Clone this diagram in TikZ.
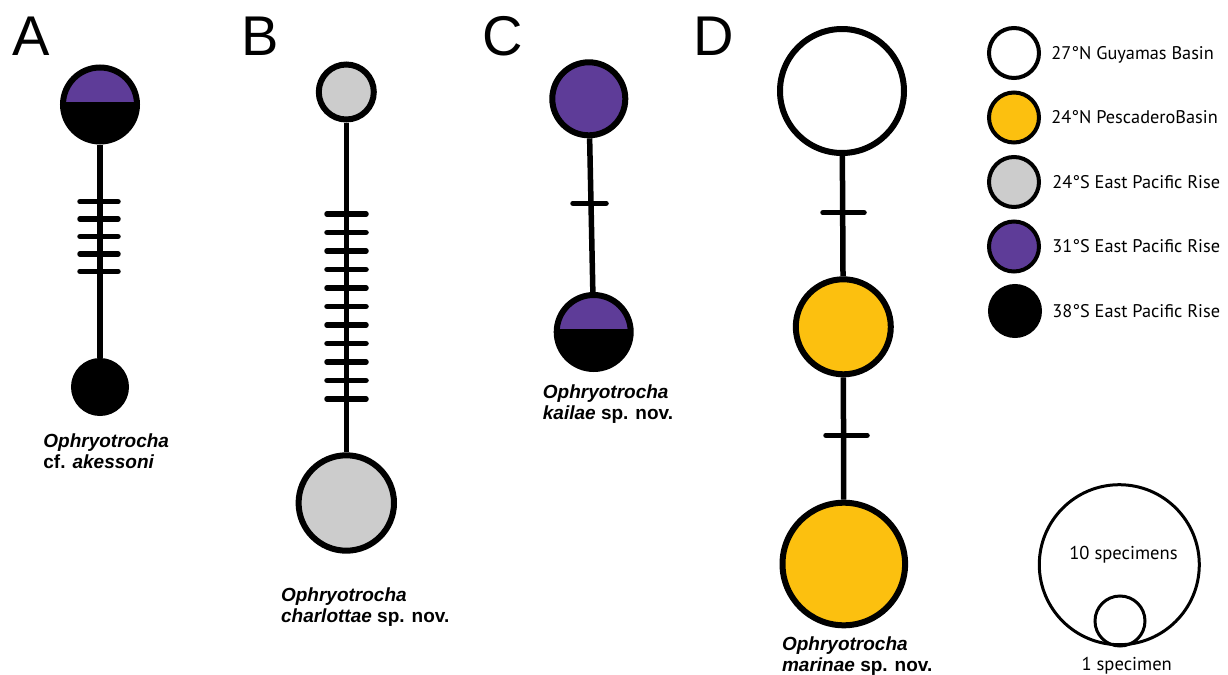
\documentclass[tikz,border=0pt]{standalone}
\usepackage{fontspec}
\setmainfont{Liberation Sans}
\newfontfamily\legfont{PT Sans}
\usetikzlibrary{calc}
\definecolor{hpurple}{RGB}{94,60,152}
\definecolor{hyellow}{RGB}{252,192,15}
\definecolor{hgray}{RGB}{204,204,204}
\begin{document}
\begin{tikzpicture}[x=0.5pt,y=-0.5pt,
  hap/.style={circle,draw=black,line width=3pt,inner sep=0pt},
  link/.style={line width=2.75pt},
  tickmk/.style={line width=2.75pt,line cap=round},
  half/.style={hap,fill=black,path picture={\fill[hpurple] (path picture bounding box.north west) rectangle ([yshift=1.4pt]path picture bounding box.east);}},
  panel/.style={font=\fontsize{28}{30}\selectfont,inner sep=0pt,anchor=base west},
  spec/.style={font=\fontsize{9.5}{10.5}\selectfont\bfseries,align=left,inner sep=0pt,anchor=base west},
  leg/.style={hap,line width=2pt,minimum size=25pt},
  legtext/.style={font=\legfont\fontsize{9.15}{11}\selectfont,anchor=base west,inner sep=0pt},
  sizec/.style={circle,draw=black,line width=1.5pt,inner sep=0pt},
  sizetext/.style={font=\legfont\fontsize{9.3}{11}\selectfont,anchor=base,inner sep=0pt}
]
\useasboundingbox (0,0) rectangle (1228,675);

% panel letters
\node[panel] (lA) at (12,55) {A};
\node[panel] (lB) at (241,55) {B};
\node[panel] (lC) at (482,55) {C};
\node[panel] (lD) at (693,55) {D};

% ---- Panel A
\node[half,minimum size=37pt] (a1) at (100,104.5) {};
\node[hap,fill=black,minimum size=26pt] (a2) at (100,387) {};
\draw[link] (a1) -- (a2);
\foreach \y in {201.7,219,236.5,254,271.3}{\draw[tickmk] (80,\y) -- (118,\y);}
\node[spec] (tA) at (43,468) {\textit{Ophryotrocha}\\cf. \textit{akessoni}};

% ---- Panel B
\node[hap,fill=hgray,minimum size=27.5pt] (b1) at (346.3,92) {};
\node[hap,fill=hgray,minimum size=47.7pt] (b2) at (346.3,503) {};
\draw[link] (b1) -- (b2);
\foreach \i in {0,...,10}{\draw[tickmk] ({327},{214+18.5*\i}) -- ({366},{214+18.5*\i});}
\node[spec] (tB) at (280.7,622.5) {\textit{Ophryotrocha}\\\textit{charlottae} sp. nov.};

% ---- Panel C
\node[hap,fill=hpurple,minimum size=36.5pt] (c1) at (588.8,98.8) {};
\node[half,minimum size=37pt] (c2) at (593.7,332) {};
\draw[link] (c1) -- (c2);
\draw[tickmk] (573,203.3) -- (606,203.3);
\node[spec] (tC) at (542.5,419) {\textit{Ophryotrocha}\\\textit{kailae} sp. nov.};

% ---- Panel D
\node[hap,fill=white,minimum size=62pt] (d1) at (842,91) {};
\node[hap,fill=hyellow,minimum size=47.5pt] (d2) at (843.3,326.8) {};
\node[hap,fill=hyellow,minimum size=61.3pt] (d3) at (843.8,564) {};
\draw[link] (d1) -- (d2);
\draw[link] (d2) -- (d3);
\draw[tickmk] (823,212.7) -- (864,212.7);
\draw[tickmk] (826,435.3) -- (867,435.3);
\node[spec] (tD) at (781.7,671.5) {\textit{Ophryotrocha}\\\textit{marinae} sp. nov.};

% ---- Legend
\node[leg,fill=white] (k1) at (1014,53) {};
\node[leg,fill=hyellow] (k2) at (1014,117.5) {};
\node[leg,fill=hgray] (k3) at (1014,182) {};
\node[leg,fill=hpurple] (k4) at (1014,246.5) {};
\node[leg,fill=black] (k5) at (1015,311) {};
\node[legtext] (kt1) at (1051,59) {27°N Guyamas Basin};
\node[legtext] (kt2) at (1051,123.5) {24°N PescaderoBasin};
\node[legtext] (kt3) at (1052,188) {24°S East Pacific Rise};
\node[legtext] (kt4) at (1052,252.5) {31°S East Pacific Rise};
\node[legtext] (kt5) at (1052,317) {38°S East Pacific Rise};

% ---- Size legend
\node[sizec,minimum size=80pt] (s10) at (1119.3,564.7) {};
\node[sizec,minimum size=25pt] (s1) at (1120,621) {};
\node[sizetext] (st10) at (1123.5,559) {10 specimens};
\node[sizetext] (st1) at (1126.7,670) {1 specimen};
\end{tikzpicture}
\end{document}
